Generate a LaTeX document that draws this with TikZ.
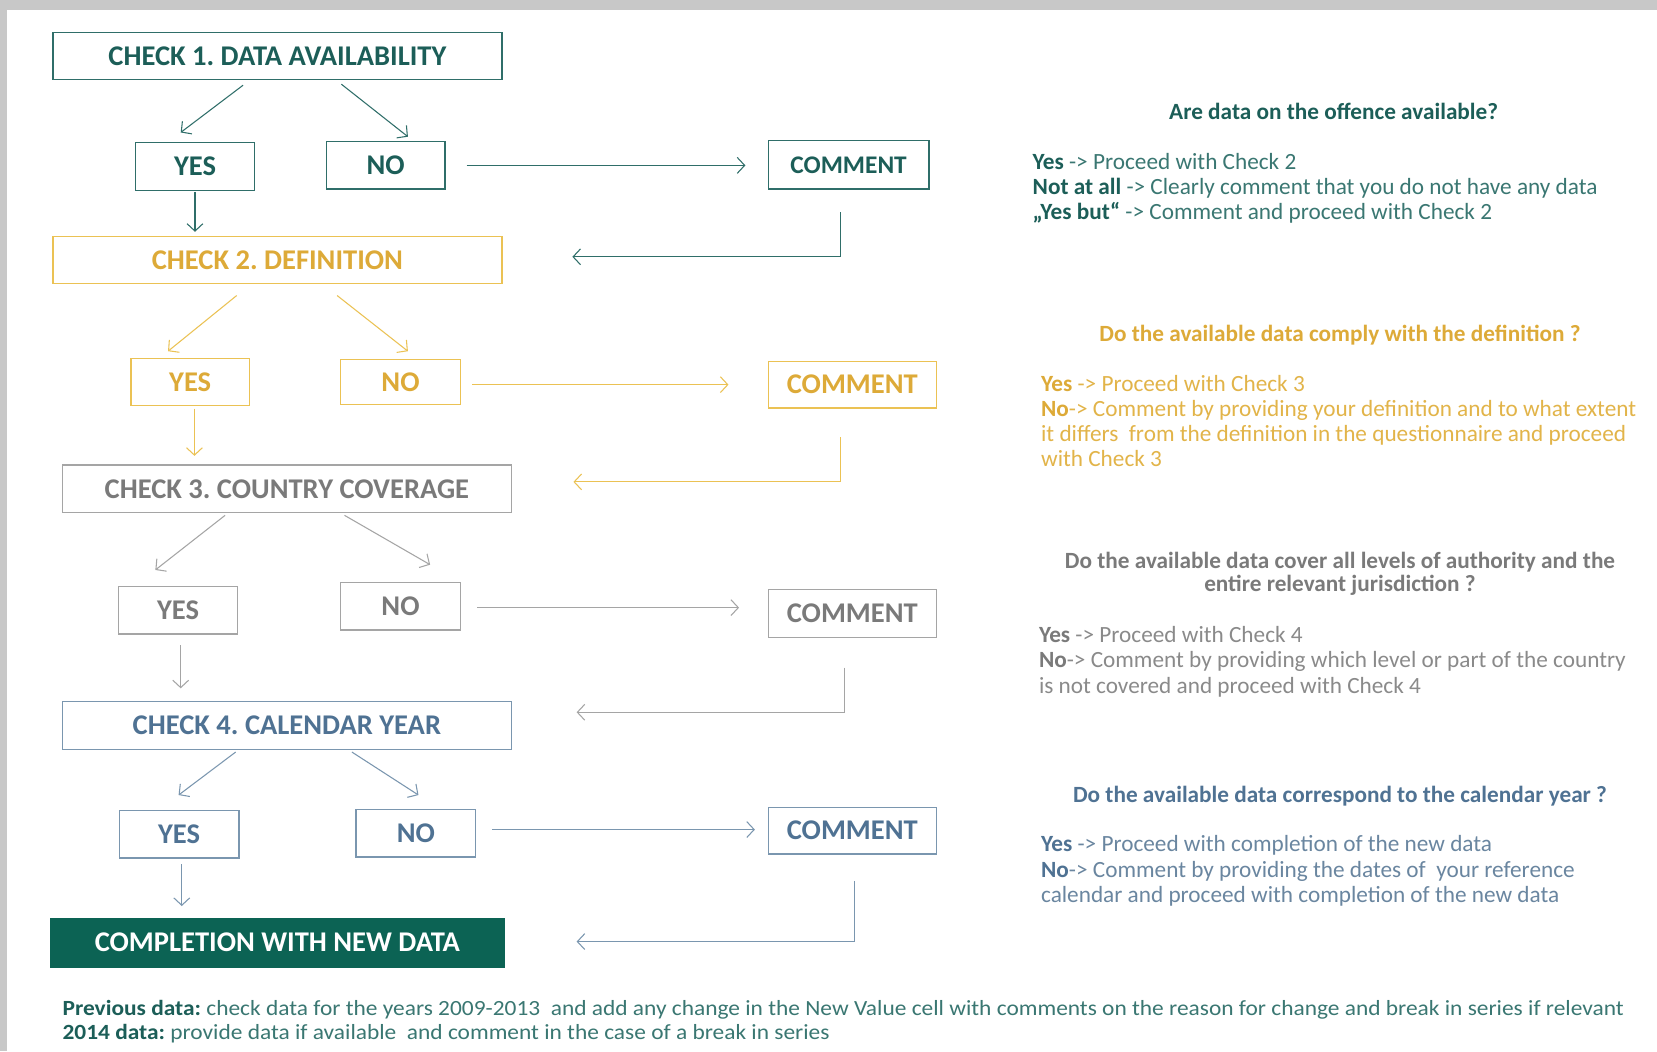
\documentclass[tikz,border=0pt]{standalone}
\usepackage{fontspec}
\setmainfont{Carlito}
\newfontfamily\footfont[FakeStretch=1.08]{Carlito}
\usetikzlibrary{arrows.meta,calc}
\definecolor{bordergray}{HTML}{C8C8C8}
\definecolor{teal1}{HTML}{1C5E58}
\definecolor{teal1b}{HTML}{2F6E69}
\definecolor{teal1t}{HTML}{3A7772}
\definecolor{gold}{HTML}{DDAA38}
\definecolor{goldb}{HTML}{EBC254}
\definecolor{goldt}{HTML}{E2B449}
\definecolor{gray3}{HTML}{7A7A7A}
\definecolor{gray3b}{HTML}{A5A5A5}
\definecolor{gray3t}{HTML}{8A8A8A}
\definecolor{blue4}{HTML}{4F7293}
\definecolor{blue4b}{HTML}{7A96AF}
\definecolor{blue4t}{HTML}{6A86A0}
\definecolor{compfill}{HTML}{0C6354}
\begin{document}
\frenchspacing
\begin{tikzpicture}[x=1pt,y=-1pt,
  box/.style={draw, line width=1.3pt, inner sep=0pt, anchor=center,
    font=\fontsize{27}{30}\selectfont\bfseries},
  arr/.style={-{Straight Barb[length=7pt,width=15pt]}, line width=1pt},
  txt/.style={anchor=base west, inner sep=0pt, font=\fontsize{22}{24}\selectfont},
  ttl/.style={anchor=base, inner sep=0pt, font=\fontsize{22}{24}\selectfont\bfseries},
  foot/.style={anchor=base west, inner sep=0pt, font=\footfont\fontsize{20.5}{23}\selectfont, text=teal1t}
]
\fill[bordergray] (0,0) rectangle (1568,995);
\fill[white] (7,9.5) rectangle (1568,995);
\useasboundingbox (0,0) rectangle (1568,995);

% ---------- Check 1 ----------
\node[box, minimum width=425pt, minimum height=44pt, draw=teal1b, text=teal1] (c1) at (262.5,53) {CHECK 1. DATA AVAILABILITY};
\node[box, minimum width=113pt, minimum height=45pt, draw=teal1b, text=teal1] (y1) at (184.5,157.5) {YES};
\node[box, minimum width=112pt, minimum height=45pt, draw=teal1b, text=teal1] (n1) at (365,156.5) {NO};
\node[box, minimum width=152pt, minimum height=46pt, draw=teal1b, text=teal1, font=\fontsize{24}{28}\selectfont\bfseries] (m1) at (803,156) {COMMENT};

% ---------- Check 2 ----------
\node[box, minimum width=425pt, minimum height=44pt, draw=goldb, text=gold] (c2) at (262.5,246) {CHECK 2. DEFINITION};
\node[box, minimum width=112pt, minimum height=45pt, draw=goldb, text=gold] (y2) at (180,361.5) {YES};
\node[box, minimum width=114pt, minimum height=43pt, draw=goldb, text=gold] (n2) at (379,361.5) {NO};
\node[box, minimum width=159pt, minimum height=44pt, draw=goldb, text=gold] (m2) at (806.5,364) {COMMENT};

% ---------- Check 3 ----------
\node[box, minimum width=425pt, minimum height=45pt, draw=gray3b, text=gray3] (c3) at (271.5,462.5) {CHECK 3. COUNTRY COVERAGE};
\node[box, minimum width=113pt, minimum height=45pt, draw=gray3b, text=gray3] (y3) at (168.5,577.5) {YES};
\node[box, minimum width=114pt, minimum height=45pt, draw=gray3b, text=gray3] (n3) at (379,573.5) {NO};
\node[box, minimum width=159pt, minimum height=45pt, draw=gray3b, text=gray3] (m3) at (806.5,580.5) {COMMENT};

% ---------- Check 4 ----------
\node[box, minimum width=425pt, minimum height=45pt, draw=blue4b, text=blue4] (c4) at (271.5,686.5) {CHECK 4. CALENDAR YEAR};
\node[box, minimum width=113pt, minimum height=45pt, draw=blue4b, text=blue4] (y4) at (169.5,789.5) {YES};
\node[box, minimum width=113pt, minimum height=45pt, draw=blue4b, text=blue4] (n4) at (393.5,788.5) {NO};
\node[box, minimum width=159pt, minimum height=44pt, draw=blue4b, text=blue4] (m4) at (806.5,786) {COMMENT};

% ---------- Completion ----------
\node[box, minimum width=429pt, minimum height=46pt, draw=compfill, fill=compfill, text=white] (cp) at (262.5,892) {COMPLETION WITH NEW DATA};

% ---------- connectors check 1 ----------
\begin{scope}[draw=teal1b]
\draw[arr] ([xshift=-32.5pt,yshift=-5pt]c1.south) -- ([xshift=-13.5pt,yshift=9pt]y1.north);
\draw[arr] ([xshift=60.5pt,yshift=-4pt]c1.south) -- ([xshift=21pt,yshift=4pt]n1.north);
\draw[arr] ([yshift=-1pt]y1.south) -- ([yshift=4pt]y1.south |- c2.north);
\draw[arr] ([xshift=20pt]n1.east) -- ([xshift=-21pt]n1.east -| m1.west);
\draw[arr] ([xshift=-8pt,yshift=-21pt]m1.south) |- ([xshift=66pt,yshift=3pt]c2.east);
\end{scope}

% ---------- connectors check 2 ----------
\begin{scope}[draw=goldb]
\draw[arr] ([xshift=-38.5pt,yshift=-11pt]c2.south) -- ([xshift=-21pt,yshift=6pt]y2.north);
\draw[arr] ([xshift=56.5pt,yshift=-11pt]c2.south) -- ([xshift=7pt,yshift=7pt]n2.north);
\draw[arr] ([xshift=4pt,yshift=-2pt]y2.south) -- ([xshift=4pt,yshift=8pt]y2.south |- c3.north);
\draw[arr] ([xshift=10pt,yshift=-2.5pt]n2.east) -- ([xshift=-37pt]m2.west);
\draw[arr] ([xshift=-11.5pt,yshift=-27pt]m2.south) |- ([xshift=58pt,yshift=6.5pt]c3.east);
\end{scope}

% ---------- connectors check 3 ----------
\begin{scope}[draw=gray3b]
\draw[arr] ([xshift=-58.5pt,yshift=-2pt]c3.south) -- ([xshift=-21.5pt,yshift=15pt]y3.north);
\draw[arr] ([xshift=54.5pt,yshift=-2pt]c3.south) -- ([xshift=28pt,yshift=16pt]n3.north);
\draw[arr] ([xshift=2.5pt,yshift=-10pt]y3.south) -- ([xshift=2.5pt,yshift=12pt]y3.south |- c4.north);
\draw[arr] ([xshift=15pt,yshift=-1.5pt]n3.east) -- ([xshift=-27pt,yshift=5.5pt]m3.west);
\draw[arr] ([xshift=-7.5pt,yshift=-28pt]m3.south) |- ([xshift=61pt,yshift=12.5pt]c4.east);
\end{scope}

% ---------- connectors check 4 ----------
\begin{scope}[draw=blue4b]
\draw[arr] ([xshift=-48.5pt,yshift=-2pt]c4.south) -- ([xshift=-0.5pt,yshift=14pt]y4.north);
\draw[arr] ([xshift=61.5pt,yshift=-2pt]c4.south) -- ([xshift=2.5pt,yshift=13pt]n4.north);
\draw[arr] ([xshift=2.5pt,yshift=-5pt]y4.south) -- ([xshift=2.5pt,yshift=11pt]y4.south |- cp.north);
\draw[arr] ([xshift=15pt,yshift=3.5pt]n4.east) -- ([xshift=-12pt,yshift=1pt]m4.west);
\draw[arr] ([xshift=2.5pt,yshift=-25pt]m4.south) |- ([xshift=68pt,yshift=1pt]cp.east);
\end{scope}

% ---------- right texts ----------
\node[ttl, text=teal1] (t1) at (1262,113) {Are data on the offence available?};
\node[txt, text=teal1t] (t1a) at (977,160) {\textbf{\color{teal1}Yes} -> Proceed with Check 2};
\node[txt, text=teal1t] (t1b) at (977,184) {\textbf{\color{teal1}Not at all} -> Clearly comment that you do not have any data};
\node[txt, text=teal1t] (t1c) at (977,208) {\textbf{\color{teal1}„Yes but“} -> Comment and proceed with Check 2};

\node[ttl, text=gold] (t2) at (1268,323) {Do the available data comply with the definition ?};
\node[txt, text=goldt] (t2a) at (985,370) {\textbf{\color{gold}Yes} -> Proceed with Check 3};
\node[txt, text=goldt] (t2b) at (985,394) {\textbf{\color{gold}No}-> Comment by providing your definition and to what extent};
\node[txt, text=goldt] (t2c) at (985,418) {it differs\ \ from the definition in the questionnaire and proceed};
\node[txt, text=goldt] (t2d) at (985,441) {with Check 3};

\node[ttl, text=gray3] (t3) at (1268,538) {Do the available data cover all levels of authority and the};
\node[ttl, text=gray3] (t3x) at (1268,560) {entire relevant jurisdiction ?};
\node[txt, text=gray3t] (t3a) at (983,608) {\textbf{\color{gray3}Yes} -> Proceed with Check 4};
\node[txt, text=gray3t] (t3b) at (983,632) {\textbf{\color{gray3}No}-> Comment by providing which level or part of the country};
\node[txt, text=gray3t] (t3c) at (983,656) {is not covered and proceed with Check 4};

\node[ttl, text=blue4] (t4) at (1268,759) {Do the available data correspond to the calendar year ?};
\node[txt, text=blue4t] (t4a) at (985,806) {\textbf{\color{blue4}Yes} -> Proceed with completion of the new data};
\node[txt, text=blue4t] (t4b) at (985,830) {\textbf{\color{blue4}No}-> Comment by providing the dates of\ \ your reference};
\node[txt, text=blue4t] (t4c) at (985,854) {calendar and proceed with completion of the new data};

% ---------- footer ----------
\node[foot] (f1) at (59,961) {\textbf{\color{teal1}Previous data:} check data for the years 2009-2013\ \ and add any change in the New Value cell with comments on the reason for change and break in series if relevant};
\node[foot] (f2) at (59,984) {\textbf{\color{teal1}2014 data:} provide data if available\ \ and comment in the case of a break in series};
\end{tikzpicture}
\end{document}
